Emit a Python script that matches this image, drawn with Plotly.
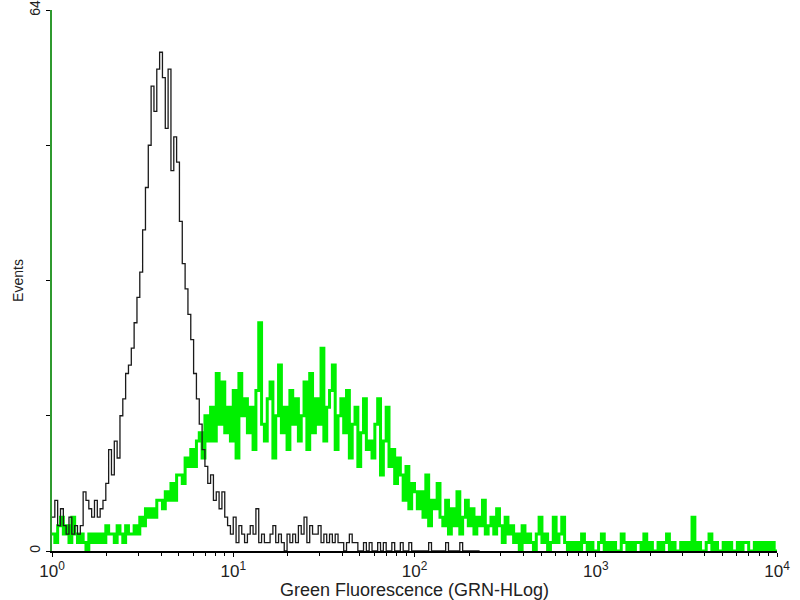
import numpy as np
import plotly.graph_objects as go

# Histogram channel counts (256 log channels spanning 10^0 .. 10^4)
black_counts = [4,6,3,5, 3,2,4,2,3,2,3, 7,6, 5,4,6,4,5,6, 8,12,9, 13,11, 16,18,21,
                22,24, 27,30, 33,38,43, 48,55, 52,57, 59,56, 50,57,45, 49,46, 39,34,
                31,28, 25, 21,18, 15,12, 10,8,9,6,7, 5,7,4, 3,2,4,1,3,2,1,2,3,
                2,5,1,2,1,1,2,3,1,2,1,0,2,1, 2,1,3,2,4,1,3,2,2,3,1,2,1,2,1,
                2,1,1,0,1,2,1,1,
                0,0,1,0,1,0,0,1,0,1,0,0,1,0,0,1,0,0,1,0,
                0,0,0,0,0,1,0,0,0,0,0,1,0,0,0,0,1,0,0,0,0,0,0]

green_counts = [2,1,3,4,2,3,1,4,2,1,2,1,0,2,1,2,1,2,
                1,3,2,2,1,3,2,1,3,2,2,3,2,
                4,3,5,4, 5,4,6, 6,5,7,6, 8,6,9, 9,8,11,10, 12,10,13, 14,11,16,13,
                17,13,21, 15,20,14,17, 13,19,11,21,16,18,14,
                17,12,19,27,15,13,18,20,11,16,22,14,17,12,19,15,18,13,
                16,20,12,21,14,18,15,24,13,17,19,22,12,16,18,14,19,11,
                15,17,10,14,18,12,13,
                11,15,18,9,13,17,10,12,8,11,
                9,6,10,5,8,7,5,
                7,4,9,3,6,5,8,4,3,6,2,
                5,3,7,2,4,6,3,5,2,4,3,6,2,3,
                4,2,5,3,1,4,2,3,
                1,2,0,3,1,2,1,0,2,4,1,2,0,1,4,1,2,4,1,0,
                1,0,1,0,2,1,0,1,0,0,1,2,0,1,0,1,0,0,2,1,0,1,0,1,1,0,2,0,1,0,0,1,0,1,2,0,
                1,0,0,1,0,1,0,4,0,1,0,0,1,2,0,1,0,0,1,0,1,0,0,1,0,1,1,0,0,1,0,1,0,1,0,1,0]

N_CHANNELS = 256
DECADES = 4
x_major = [1, 10, 100, 1000, 10000]
x_major_text = ["10<sup>0</sup>", "10<sup>1</sup>", "10<sup>2</sup>", "10<sup>3</sup>", "10<sup>4</sup>"]
y_ticks = [0, 16, 32, 48, 64]
y_tick_text = ["0", "", "", "", "64"]


def channel_x(n):
    return 10 ** (np.arange(n + 1) * DECADES / N_CHANNELS)


def step(counts):
    xs = channel_x(len(counts))
    ys = list(counts) + [counts[-1]]
    return xs, ys


fig = go.Figure()
gx, gy = step(green_counts)
fig.add_trace(go.Scatter(x=gx, y=gy, mode="lines", line=dict(color="#00f000", width=3, shape="hv"),
                         showlegend=False, hoverinfo="skip"))
bx, by = step(black_counts)
fig.add_trace(go.Scatter(x=bx, y=by, mode="lines", line=dict(color="#1a1a1a", width=1.3, shape="hv"),
                         showlegend=False, hoverinfo="skip"))

minor_vals = [m * 10 ** d for d in range(4) for m in range(2, 10)]

fig.update_layout(
    width=800, height=600,
    margin=dict(l=52, r=23, t=10, b=49),
    paper_bgcolor="white", plot_bgcolor="white",
    font=dict(family="Liberation Sans, Arial, sans-serif", size=15, color="#222222"),
    xaxis=dict(
        type="log", range=[0, 4], automargin=False,
        tickvals=x_major, ticktext=x_major_text,
        ticks="outside", ticklen=4, tickcolor="black",
        minor=dict(tickvals=minor_vals, ticks="outside", ticklen=3, tickcolor="black"),
        showline=True, linecolor="black", linewidth=1.5,
        showgrid=False, zeroline=False,
        title=dict(text="Green Fluorescence (GRN-HLog)", font=dict(size=18), standoff=2),
        tickfont=dict(size=17), ticklabeloverflow="allow",
    ),
    yaxis=dict(
        range=[0, 64], automargin=False,
        tickvals=y_ticks, ticktext=y_tick_text, tickangle=-90,
        ticks="outside", ticklen=4, tickcolor="black",
        showline=True, linecolor="#2f9a2f", linewidth=2,
        showgrid=False, zeroline=False,
        title=dict(text="Events", font=dict(size=14), standoff=1),
        tickfont=dict(size=14), ticklabeloverflow="allow",
    ),
)

fig.write_html("out.html", config={"displayModeBar": False},
               post_script="document.body.style.margin='0';")
